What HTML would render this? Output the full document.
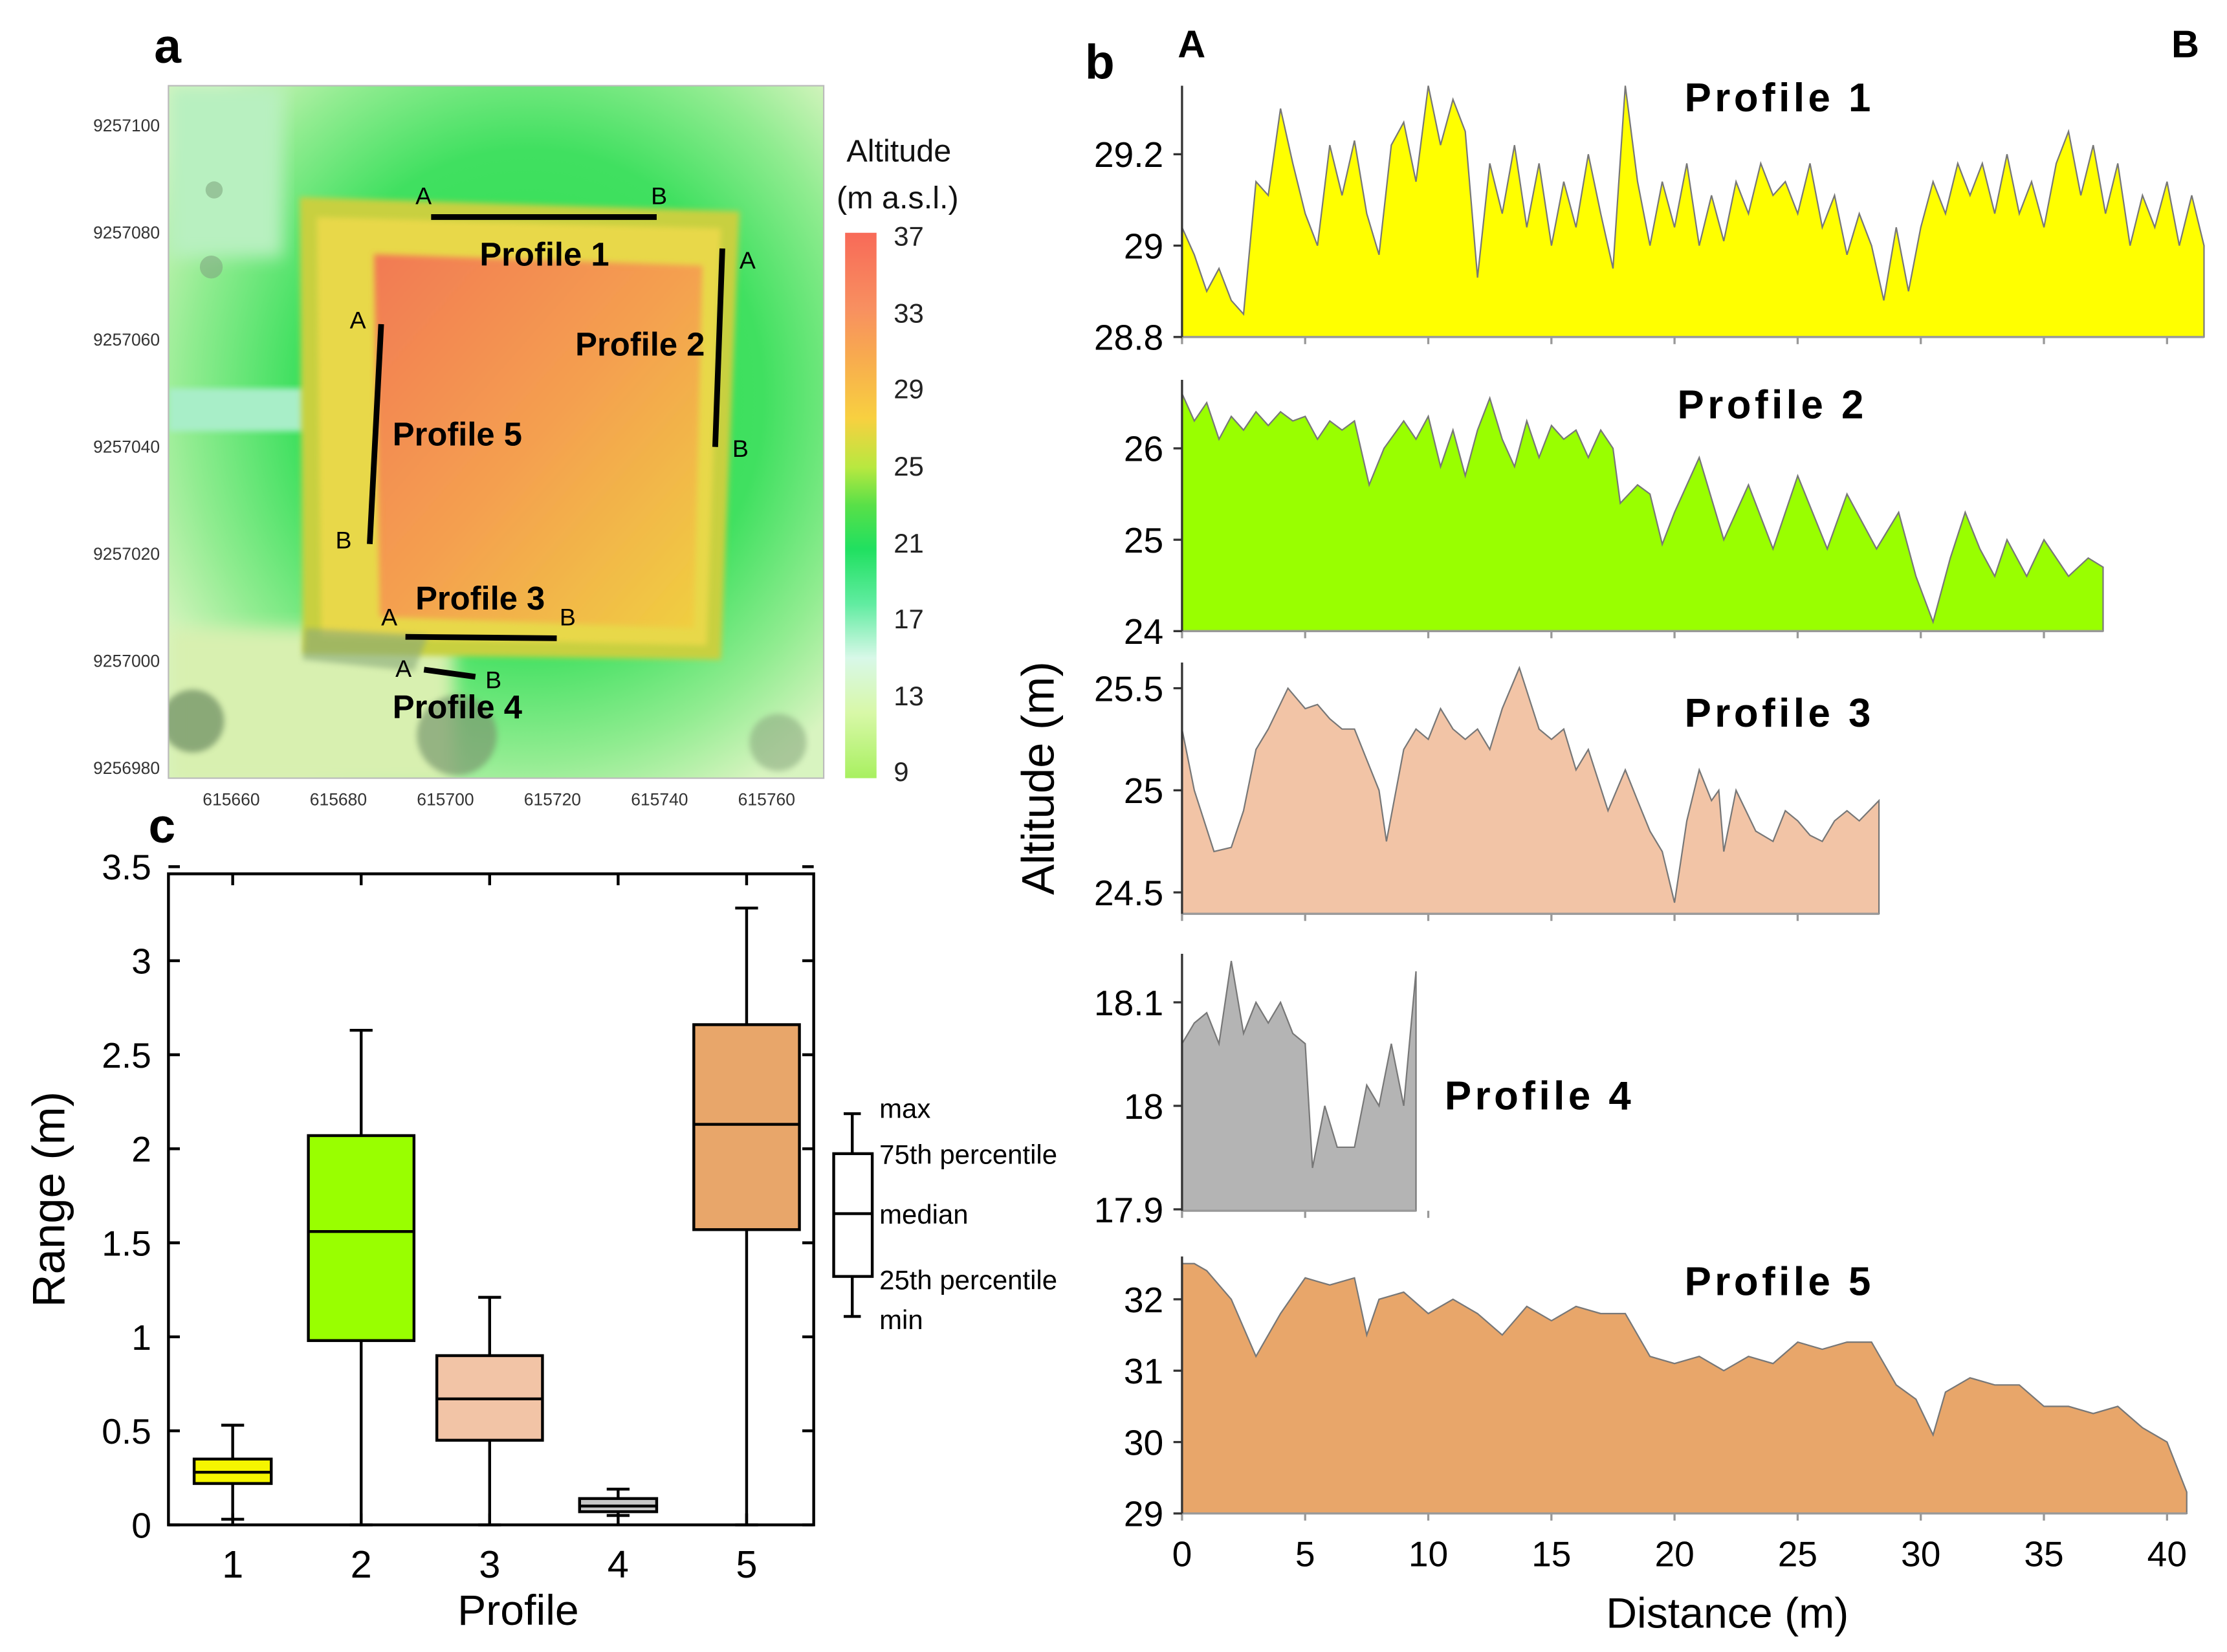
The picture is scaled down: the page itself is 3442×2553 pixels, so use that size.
<!DOCTYPE html>
<html><head><meta charset="utf-8"><style>
html,body{margin:0;padding:0;background:#fff}
svg{display:block}
text{font-family:"Liberation Sans",Arial,sans-serif}
</style></head><body>
<svg id="fig" xmlns="http://www.w3.org/2000/svg" width="3442" height="2553" viewBox="0 0 1560 1157">
<defs>
<linearGradient id="cbar" x1="0" y1="0" x2="0" y2="1">
<stop offset="0" stop-color="#f86a58"/><stop offset="0.14" stop-color="#f89060"/><stop offset="0.22" stop-color="#f8a850"/>
<stop offset="0.34" stop-color="#f8d040"/><stop offset="0.43" stop-color="#b8e840"/><stop offset="0.5" stop-color="#58e048"/>
<stop offset="0.58" stop-color="#20e060"/><stop offset="0.68" stop-color="#60eca0"/><stop offset="0.78" stop-color="#d8f8e8"/>
<stop offset="0.88" stop-color="#d8f8a8"/><stop offset="1" stop-color="#a8f060"/></linearGradient>
<radialGradient id="mapbg" cx="0.55" cy="0.45" r="0.65">
<stop offset="0" stop-color="#30e050"/><stop offset="0.55" stop-color="#40e060"/><stop offset="0.8" stop-color="#90ec90"/><stop offset="1" stop-color="#d8f4c0"/></radialGradient>
<linearGradient id="core" x1="0" y1="0" x2="1" y2="1">
<stop offset="0" stop-color="#f27a52"/><stop offset="0.5" stop-color="#f4a050"/><stop offset="1" stop-color="#f0d040"/></linearGradient>
<filter id="blur"><feGaussianBlur stdDeviation="6"/></filter>
<filter id="blur2"><feGaussianBlur stdDeviation="2"/></filter>
<clipPath id="mapclip"><rect x="118" y="60" width="459" height="485"/></clipPath>
</defs>

<!-- PANEL A -->
<g>
<text x="108" y="44" font-size="34" font-weight="bold">a</text>
<g clip-path="url(#mapclip)">
<rect x="118" y="60" width="459" height="485" fill="url(#mapbg)"/>
<rect x="118" y="440" width="200" height="110" fill="#d8f0b0" filter="url(#blur)"/>
<rect x="118" y="60" width="80" height="120" fill="#b8f0c0" filter="url(#blur)"/>
<rect x="118" y="272" width="100" height="30" fill="#a8eec8" filter="url(#blur2)"/>
<polygon points="210,138 518,148 505,462 212,458" fill="#c8d040" filter="url(#blur2)"/>
<polygon points="222,152 505,160 495,452 225,446" fill="#e8d848" filter="url(#blur2)"/>
<polygon points="262,178 492,186 486,440 266,432" fill="url(#core)" filter="url(#blur2)"/>
<polygon points="214,440 300,445 290,470 212,462" fill="#88a878" opacity="0.6" filter="url(#blur2)"/>
<circle cx="320" cy="515" r="28" fill="#7a9a70" opacity="0.7" filter="url(#blur2)"/>
<circle cx="135" cy="505" r="22" fill="#6a8a60" opacity="0.7" filter="url(#blur2)"/>
<circle cx="545" cy="520" r="20" fill="#8aaa80" opacity="0.6" filter="url(#blur2)"/>
<circle cx="148" cy="187" r="8" fill="#80a880" opacity="0.6"/>
<circle cx="150" cy="133" r="6" fill="#80a880" opacity="0.6"/>
</g>
<rect x="118" y="60" width="459" height="485" fill="none" stroke="#bbb" stroke-width="1"/>
<g font-size="12" fill="#333" text-anchor="end">
<text x="112" y="92">9257100</text><text x="112" y="167">9257080</text><text x="112" y="242">9257060</text>
<text x="112" y="317">9257040</text><text x="112" y="392">9257020</text><text x="112" y="467">9257000</text><text x="112" y="542">9256980</text></g>
<g font-size="12" fill="#333" text-anchor="middle">
<text x="162" y="564">615660</text><text x="237" y="564">615680</text><text x="312" y="564">615700</text>
<text x="387" y="564">615720</text><text x="462" y="564">615740</text><text x="537" y="564">615760</text></g>
<g stroke="#000" stroke-width="4">
<line x1="302" y1="152" x2="460" y2="152"/><line x1="506" y1="174" x2="501" y2="313"/>
<line x1="267" y1="227" x2="259" y2="381"/><line x1="284" y1="446" x2="390" y2="447"/>
<line x1="297" y1="469" x2="333" y2="474"/></g>
<g font-size="17" fill="#000">
<text x="291" y="143">A</text><text x="456" y="143">B</text><text x="518" y="188">A</text><text x="513" y="320">B</text>
<text x="245" y="230">A</text><text x="235" y="384">B</text><text x="267" y="438">A</text><text x="392" y="438">B</text>
<text x="277" y="474">A</text><text x="340" y="482">B</text></g>
<g font-size="23" font-weight="bold" fill="#000">
<text x="336" y="186">Profile 1</text><text x="403" y="249">Profile 2</text><text x="275" y="312">Profile 5</text>
<text x="291" y="427">Profile 3</text><text x="275" y="503">Profile 4</text></g>
<text x="593" y="113" font-size="22" fill="#111">Altitude</text>
<text x="586" y="146" font-size="22" fill="#111">(m a.s.l.)</text>
<rect x="592" y="163" width="22" height="382" fill="url(#cbar)"/>
<g font-size="19" fill="#222">
<text x="626" y="172">37</text><text x="626" y="226">33</text><text x="626" y="279">29</text><text x="626" y="333">25</text>
<text x="626" y="387">21</text><text x="626" y="440">17</text><text x="626" y="494">13</text><text x="626" y="547">9</text></g>
</g>

<!-- PANEL C -->
<text x="104" y="590" font-size="34" font-weight="bold">c</text>
<g id="boxplot"></g>

<!-- PANEL B -->
<text x="760" y="55" font-size="34" font-weight="bold">b</text>
<text x="825" y="40" font-size="27" font-weight="bold">A</text>
<text x="1521" y="40" font-size="27" font-weight="bold">B</text>
<g id="profiles"></g>
<text transform="translate(738,545) rotate(-90)" text-anchor="middle" font-size="32">Altitude (m)</text>
<text x="1210" y="1140" text-anchor="middle" font-size="30">Distance (m)</text>
</svg>
<script>
// ---- Box plot data ----
const boxCategories = ["1","2","3","4","5"];
const boxMin = [0.03, 0.0, 0.0, 0.05, 0.0];
const boxQ1 = [0.22, 0.98, 0.45, 0.07, 1.57];
const boxMedian = [0.28, 1.56, 0.67, 0.10, 2.13];
const boxQ3 = [0.35, 2.07, 0.90, 0.14, 2.66];
const boxMax = [0.53, 2.63, 1.21, 0.19, 3.28];
const boxColors = ["#f5f500","#99ff00","#f2c4a6","#c8c8c8","#e8a66a"];
const boxYTicks = [0,0.5,1,1.5,2,2.5,3,3.5];
const boxYTickLabels = ["0","0.5","1","1.5","2","2.5","3","3.5"];

// ---- Profile data (distance m, altitude m) ----
const p1Dist = [0,0.5,1,1.5,2,2.5,3,3.5,4,4.5,5,5.5,6,6.5,7,7.5,8,8.5,9,9.5,10,10.5,11,11.5,12,12.5,13,13.5,14,14.5,15,15.5,16,16.5,17,17.5,18,18.5,19,19.5,20,20.5,21,21.5,22,22.5,23,23.5,24,24.5,25,25.5,26,26.5,27,27.5,28,28.5,29,29.5,30,30.5,31,31.5,32,32.5,33,33.5,34,34.5,35,35.5,36,36.5,37,37.5,38,38.5,39,39.5,40,40.5,41,41.5];
const p1Alt = [29.04,28.98,28.9,28.95,28.88,28.85,29.14,29.11,29.30,29.18,29.07,29.0,29.22,29.11,29.23,29.07,28.98,29.22,29.27,29.14,29.35,29.22,29.32,29.25,28.93,29.18,29.07,29.22,29.04,29.18,29.0,29.14,29.04,29.2,29.07,28.95,29.35,29.14,29.0,29.14,29.04,29.18,29.0,29.11,29.01,29.14,29.07,29.18,29.11,29.14,29.07,29.18,29.04,29.11,28.98,29.07,29.0,28.88,29.04,28.9,29.04,29.14,29.07,29.18,29.11,29.18,29.07,29.2,29.07,29.14,29.04,29.18,29.25,29.11,29.22,29.07,29.18,29.0,29.11,29.04,29.14,29.0,29.11,29.0];
const p2Dist = [0,0.5,1,1.5,2,2.5,3,3.5,4,4.5,5,5.5,6,6.5,7,7.6,8.2,9,9.5,10,10.5,11,11.5,12,12.5,13,13.5,14,14.5,15,15.5,16,16.5,17,17.5,17.8,18.5,19,19.5,20,21,22,23,24,25,26.2,27,28.2,29.1,29.8,30.5,31.2,31.8,32.4,33,33.5,34.3,35,36,36.8,37.4];
const p2Alt = [26.6,26.3,26.5,26.1,26.35,26.2,26.4,26.25,26.4,26.3,26.35,26.1,26.3,26.2,26.3,25.6,26.0,26.3,26.1,26.35,25.8,26.2,25.7,26.2,26.55,26.1,25.8,26.3,25.9,26.25,26.1,26.2,25.9,26.2,26.0,25.4,25.6,25.5,24.95,25.3,25.9,25.0,25.6,24.9,25.7,24.9,25.5,24.9,25.3,24.6,24.1,24.8,25.3,24.9,24.6,25.0,24.6,25.0,24.6,24.8,24.7];
const p3Dist = [0,0.5,1.3,2,2.5,3,3.5,4.3,5,5.5,6,6.5,7,7.5,8,8.3,9,9.5,10,10.5,11,11.5,12,12.5,13,13.7,14.5,15,15.5,16,16.5,17.3,18,18.5,19,19.5,20,20.5,21,21.5,21.8,22,22.5,23.3,24,24.5,25,25.5,26,26.5,27,27.5,28.3];
const p3Alt = [25.3,25.0,24.7,24.72,24.9,25.2,25.3,25.5,25.4,25.42,25.35,25.3,25.3,25.15,25.0,24.75,25.2,25.3,25.25,25.4,25.3,25.25,25.3,25.2,25.4,25.6,25.3,25.25,25.3,25.1,25.2,24.9,25.1,24.95,24.8,24.7,24.45,24.85,25.1,24.95,25.0,24.7,25.0,24.8,24.75,24.9,24.85,24.78,24.75,24.85,24.9,24.85,24.95];
const p4Dist = [0,0.5,1,1.5,2,2.5,3,3.5,4,4.5,5,5.3,5.8,6.3,7,7.5,8,8.5,9,9.5];
const p4Alt = [18.06,18.08,18.09,18.06,18.14,18.07,18.1,18.08,18.1,18.07,18.06,17.94,18.0,17.96,17.96,18.02,18.0,18.06,18.0,18.13];
const p5Dist = [0,0.5,1,2,3,4,5,6,7,7.5,8,9,10,11,12,13,14,15,16,17,18,19,20,21,22,23,24,25,26,27,28,29,29.8,30.5,31,32,33,34,35,36,37,38,39,40,40.8];
const p5Alt = [32.5,32.5,32.4,32.0,31.2,31.8,32.3,32.2,32.3,31.5,32.0,32.1,31.8,32.0,31.8,31.5,31.9,31.7,31.9,31.8,31.8,31.2,31.1,31.2,31.0,31.2,31.1,31.4,31.3,31.4,31.4,30.8,30.6,30.1,30.7,30.9,30.8,30.8,30.5,30.5,30.4,30.5,30.2,30.0,29.3];

const xTicks = [0,5,10,15,20,25,30,35,40];
const xTickLabels = ["0","5","10","15","20","25","30","35","40"];
const NS = "http://www.w3.org/2000/svg";
function mk(tag, attrs, parent){const e=document.createElementNS(NS,tag);for(const k in attrs)e.setAttribute(k,attrs[k]);parent.appendChild(e);return e;}

// ---- Box plot ----
(function(){
  const g=document.getElementById('boxplot');
  const L=118,R=570,T=612,B=1068, vmax=3.5;
  const y=v=>B-(v/vmax)*(B-T+5);
  const x=i=>163+i*90;
  const frame=mk('rect',{x:L,y:T,width:R-L,height:B-T,fill:'none',stroke:'#000','stroke-width':2},g);
  
  
  boxYTicks.forEach((v,i)=>{
    mk('line',{x1:L,x2:L+8,y1:y(v),y2:y(v),stroke:'#000','stroke-width':2},g);
    mk('line',{x1:R-8,x2:R,y1:y(v),y2:y(v),stroke:'#000','stroke-width':2},g);
    const t=mk('text',{x:106,y:y(v)+9,'text-anchor':'end','font-size':25},g);
    t.textContent=boxYTickLabels[i];
    
    
  });
  boxCategories.forEach((c,i)=>{
    mk('line',{x1:x(i),x2:x(i),y1:B,y2:B-8,stroke:'#000','stroke-width':2},g);
    mk('line',{x1:x(i),x2:x(i),y1:T,y2:T+8,stroke:'#000','stroke-width':2},g);
    const t=mk('text',{x:x(i),y:1105,'text-anchor':'middle','font-size':27},g);
    t.textContent=c;
    
    
    const w=i===0||i===3?54:74;
    const bg=mk('g',{},g);
    
    
    mk('line',{x1:x(i),x2:x(i),y1:y(boxMax[i]),y2:y(boxMin[i]),stroke:'#000','stroke-width':2},bg);
    mk('line',{x1:x(i)-8,x2:x(i)+8,y1:y(boxMax[i]),y2:y(boxMax[i]),stroke:'#000','stroke-width':2},bg);
    mk('line',{x1:x(i)-8,x2:x(i)+8,y1:y(boxMin[i]),y2:y(boxMin[i]),stroke:'#000','stroke-width':2},bg);
    mk('rect',{x:x(i)-w/2,y:y(boxQ3[i]),width:w,height:y(boxQ1[i])-y(boxQ3[i]),fill:boxColors[i],stroke:'#000','stroke-width':2},bg);
    mk('line',{x1:x(i)-w/2,x2:x(i)+w/2,y1:y(boxMedian[i]),y2:y(boxMedian[i]),stroke:'#000','stroke-width':2},bg);
  });
  const xt=mk('text',{x:363,y:1138,'text-anchor':'middle','font-size':30},g);
  xt.textContent='Profile';
  
  
  const yt=mk('text',{transform:'translate(45,840) rotate(-90)','text-anchor':'middle','font-size':32},g);
  yt.textContent='Range (m)';
  
  
  const lg=mk('g',{},g);
  
  
  mk('line',{x1:597,x2:597,y1:780,y2:922,stroke:'#000','stroke-width':2},lg);
  mk('line',{x1:591,x2:603,y1:780,y2:780,stroke:'#000','stroke-width':2},lg);
  mk('line',{x1:591,x2:603,y1:922,y2:922,stroke:'#000','stroke-width':2},lg);
  mk('rect',{x:584,y:808,width:27,height:86,fill:'#fff',stroke:'#000','stroke-width':2},lg);
  mk('line',{x1:584,x2:611,y1:850,y2:850,stroke:'#000','stroke-width':2},lg);
  [['max',783],['75th percentile',815],['median',857],['25th percentile',903],['min',931]].forEach(([s,yy])=>{
    const t=mk('text',{x:616,y:yy,'font-size':19},lg);t.textContent=s;
  });
})();

// ---- Profiles ----
(function(){
  const g=document.getElementById('profiles');
  const X0=828, PX=17.25;
  const x=d=>X0+d*PX;
  const defs=[
    {name:'1',dist:p1Dist,alt:p1Alt,top:60,base:236,vBase:28.8,vRef:29.2,yRef:108,ticks:[28.8,29,29.2],tl:['28.8','29','29.2'],fill:'#ffff00',title:[1180,78]},
    {name:'2',dist:p2Dist,alt:p2Alt,top:266,base:442,vBase:24,vRef:26,yRef:314,ticks:[24,25,26],tl:['24','25','26'],fill:'#99ff00',title:[1175,293]},
    {name:'3',dist:p3Dist,alt:p3Alt,top:464,base:640,vBase:24.5,vRef:25.5,yRef:482,ticks:[24.5,25,25.5],tl:['24.5','25','25.5'],fill:'#f2c4a6',title:[1180,509],yBaseOverride:625},
    {name:'4',dist:p4Dist,alt:p4Alt,top:668,base:848,vBase:17.9,vRef:18.1,yRef:702,ticks:[17.9,18,18.1],tl:['17.9','18','18.1'],fill:'#b4b4b4',title:[1012,777],yBaseOverride:847},
    {name:'5',dist:p5Dist,alt:p5Alt,top:880,base:1060,vBase:29,vRef:32,yRef:910,ticks:[29,30,31,32],tl:['29','30','31','32'],fill:'#e8a66a',title:[1180,907]}
  ];
  defs.forEach(p=>{
    const pg=mk('g',{},g);
    
    
    const yb=p.yBaseOverride!==undefined?p.yBaseOverride:p.base;
    const sc=(yb-p.yRef)/(p.vRef-p.vBase);
    const y=v=>yb-(v-p.vBase)*sc;
    let d='M'+x(p.dist[0])+','+p.base;
    p.dist.forEach((dd,i)=>{d+=' L'+x(dd).toFixed(1)+','+y(p.alt[i]).toFixed(1);});
    d+=' L'+x(p.dist[p.dist.length-1]).toFixed(1)+','+p.base+' Z';
    const area=mk('path',{d:d,fill:p.fill,stroke:'#777','stroke-width':1},pg);
    
    
    const last=p.dist[p.dist.length-1];
    mk('line',{x1:X0,x2:x(last),y1:p.base,y2:p.base,stroke:'#999','stroke-width':1.5},pg);
    xTicks.forEach(t=>{ if(t<=last+0.5) mk('line',{x1:x(t),x2:x(t),y1:p.base,y2:p.base+5,stroke:'#999','stroke-width':1.5},pg);});
    mk('line',{x1:X0,x2:X0,y1:p.top,y2:p.base,stroke:'#333','stroke-width':1.5},pg);
    p.ticks.forEach((v,i)=>{
      mk('line',{x1:X0-6,x2:X0,y1:y(v),y2:y(v),stroke:'#333','stroke-width':1.5},pg);
      const t=mk('text',{x:815,y:y(v)+9,'text-anchor':'end','font-size':25},pg);
      t.textContent=p.tl[i];
      
      
    });
    const tt=mk('text',{x:p.title[0],y:p.title[1],'font-size':28,'font-weight':'bold','letter-spacing':'2.5'},pg);
    tt.textContent='Profile '+p.name;
    
    
  });
  xTicks.forEach((t,i)=>{
    const e=mk('text',{x:x(t),y:1097,'text-anchor':'middle','font-size':25},g);
    e.textContent=xTickLabels[i];
    
    
  });
})();
</script>
</body></html>
